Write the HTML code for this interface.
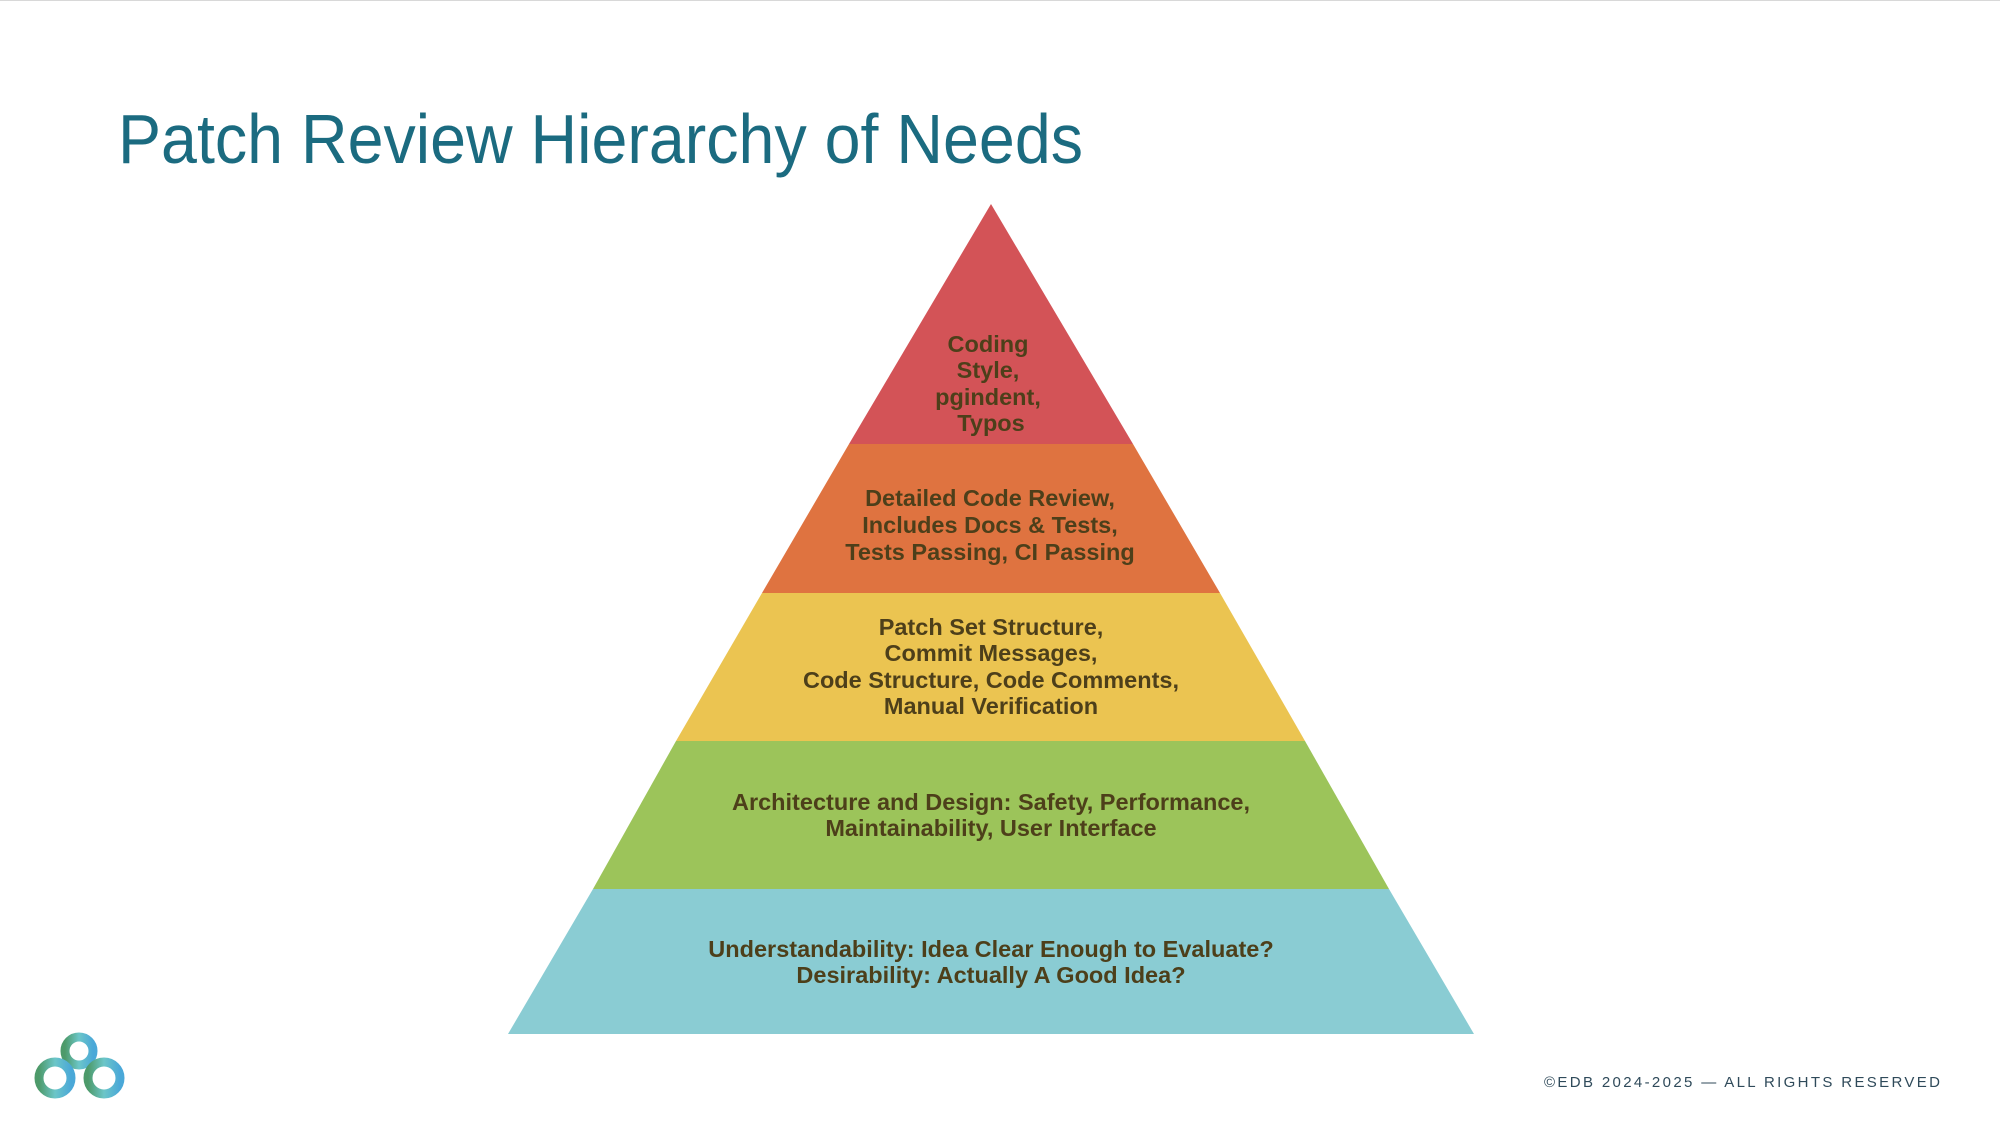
<!DOCTYPE html>
<html><head><meta charset="utf-8"><style>
html,body{margin:0;padding:0;background:#fff;}
body{width:2000px;height:1125px;overflow:hidden;position:relative;font-family:"Liberation Sans",sans-serif;}
</style></head><body>
<svg width="2000" height="1125" viewBox="0 0 2000 1125" xmlns="http://www.w3.org/2000/svg" style="position:absolute;left:0;top:0">
<line x1="0" y1="0.5" x2="2000" y2="0.5" stroke="#d8d8d8" stroke-width="1"/>
<text x="118" y="163" font-family="Liberation Sans, sans-serif" font-size="70" fill="#1b6b80" textLength="965" lengthAdjust="spacingAndGlyphs">Patch Review Hierarchy of Needs</text>
<polygon points="991,204 1133,444 849,444" fill="#d35357"/>
<polygon points="849,444 1133,444 1220,593 762,593" fill="#df7340"/>
<polygon points="762,593 1220,593 1305,741 676,741" fill="#ebc451"/>
<polygon points="676,741 1305,741 1389,889 593,889" fill="#9cc45a"/>
<polygon points="593,889 1389,889 1474,1034 508,1034" fill="#8accd3"/>
<g font-family="Liberation Sans, sans-serif" font-weight="bold" font-size="23.5" fill="#4d3f1a" text-anchor="middle">
<text x="988" y="352">Coding</text>
<text x="988" y="378">Style,</text>
<text x="988" y="405">pgindent,</text>
<text x="991" y="431">Typos</text>
<text x="990" y="506">Detailed Code Review,</text>
<text x="990" y="533">Includes Docs &amp; Tests,</text>
<text x="990" y="560">Tests Passing, CI Passing</text>
<text x="991" y="635">Patch Set Structure,</text>
<text x="991" y="661">Commit Messages,</text>
<text x="991" y="688">Code Structure, Code Comments,</text>
<text x="991" y="714">Manual Verification</text>
<text x="991" y="810">Architecture and Design: Safety, Performance,</text>
<text x="991" y="836">Maintainability, User Interface</text>
<text x="991" y="957">Understandability: Idea Clear Enough to Evaluate?</text>
<text x="991" y="983">Desirability: Actually A Good Idea?</text>
</g>
<text x="1544" y="1087" font-family="Liberation Sans, sans-serif" font-size="15" fill="#2f4a5a" textLength="396" lengthAdjust="spacing">©EDB 2024-2025 — ALL RIGHTS RESERVED</text>
<defs>
<linearGradient id="lg" x1="0" y1="0" x2="1" y2="0">
<stop offset="0" stop-color="#4d9a6a"/><stop offset="0.5" stop-color="#6cc6c8"/><stop offset="1" stop-color="#4aa8d8"/>
</linearGradient>
</defs>
<g fill="none" stroke="url(#lg)" stroke-width="9">
<circle cx="79" cy="1051" r="14"/>
<circle cx="55" cy="1078" r="16"/>
<circle cx="104" cy="1078" r="16"/>
</g>
</svg>
</body></html>
